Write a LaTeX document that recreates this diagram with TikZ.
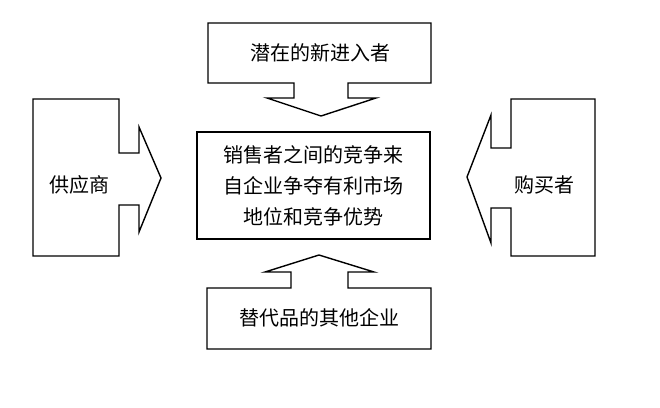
\documentclass[tikz,border=0pt]{standalone}
\usepackage{fontspec}
\newfontfamily\cjk{Noto Sans CJK SC}
\begin{document}
\begin{tikzpicture}[x=1pt,y=-1pt,
  outline/.style={draw=black,line width=1.4pt,line join=miter},
  lbl/.style={font=\cjk\fontsize{20}{31}\selectfont,inner sep=0pt,align=center}]
\useasboundingbox[fill=white] (0,0) rectangle (660,407);
% top: potential entrants
\draw[outline] (208,23) -- (431,23) -- (431,83) -- (348,83) -- (348,98) -- (376,98) -- (321,116) -- (267,98) -- (294,98) -- (294,83) -- (208,83) -- cycle;
\node[lbl] (top) at (320,53) {潜在的新进入者};
% left: suppliers
\draw[outline] (33,99) -- (119,99) -- (119,153) -- (139,153) -- (139,127) -- (161,178) -- (139,232) -- (139,205) -- (119,205) -- (119,256) -- (33,256) -- cycle;
\node[lbl] (left) at (79,185) {供应商};
% right: buyers
\draw[outline] (595,99) -- (511,99) -- (511,148) -- (491,148) -- (491,115) -- (467,177) -- (491,243) -- (491,208) -- (511,208) -- (511,256) -- (595,256) -- cycle;
\node[lbl] (right) at (544,185) {购买者};
% bottom: substitutes
\draw[outline] (207,349) -- (431,349) -- (431,288) -- (348,288) -- (348,272) -- (374,272) -- (319,255) -- (265,272) -- (291,272) -- (291,288) -- (207,288) -- cycle;
\node[lbl] (bottom) at (319,318) {替代品的其他企业};
% center
\draw[outline] (197,132) rectangle (430,239);
\node[lbl] (center) at (313.5,185.5) {销售者之间的竞争来\\自企业争夺有利市场\\地位和竞争优势};
\end{tikzpicture}
\end{document}
